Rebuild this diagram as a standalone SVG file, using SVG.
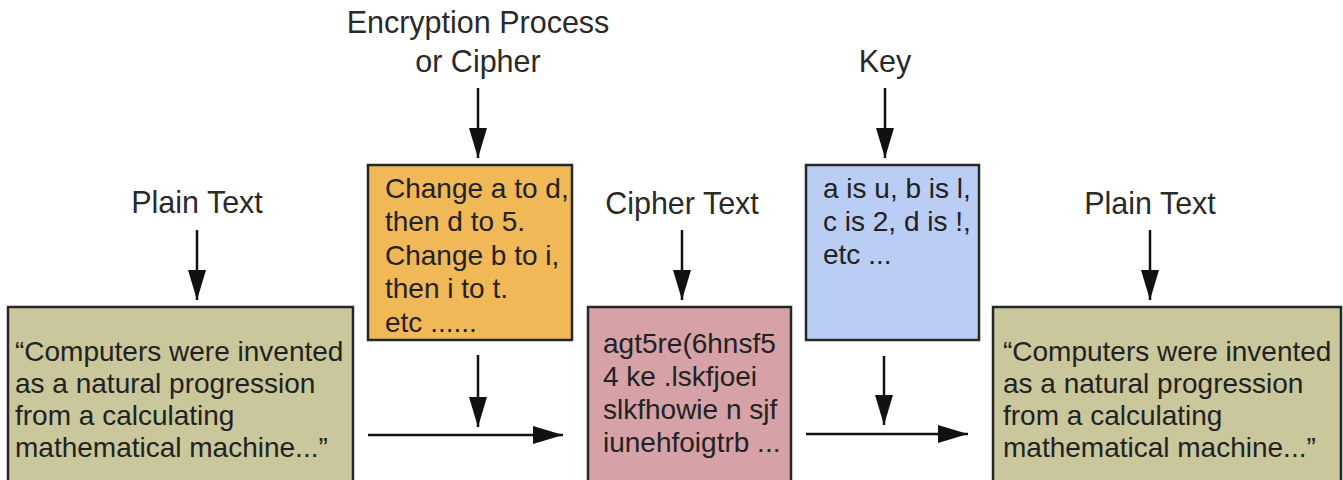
<svg xmlns="http://www.w3.org/2000/svg" width="1343" height="480" viewBox="0 0 1343 480">
<style>
  .lbl { font-family: "Liberation Sans", Arial, sans-serif; font-size: 28px; fill: #222; }
  .head { font-size: 30.5px; fill: #2a2a2a; }
  .box { stroke: #262626; stroke-width: 2.5; }
  .plain { fill: #c9c79b; }
  .orange { fill: #f1b857; }
  .pink { fill: #d6a2a7; }
  .blue { fill: #bacdf4; }
  .conn { stroke: #111; stroke-width: 2.5; fill: none; marker-end: url(#ah); }
</style>
<defs>
  <marker id="ah" markerUnits="userSpaceOnUse" markerWidth="30" markerHeight="18" refX="30" refY="9" orient="auto">
    <path d="M0,0 L30,9 L0,18 z" fill="#111"/>
  </marker>
</defs>
<rect width="1343" height="480" fill="#ffffff"/>

<g id="label-plain-left">
  <text class="lbl head" x="197" y="213" text-anchor="middle">Plain Text</text>
</g>
<g id="label-cipher-process">
  <text class="lbl head" x="478" y="33" text-anchor="middle">Encryption Process</text>
  <text class="lbl head" x="478" y="72" text-anchor="middle">or Cipher</text>
</g>
<g id="label-cipher-text">
  <text class="lbl head" x="682" y="214" text-anchor="middle">Cipher Text</text>
</g>
<g id="label-key">
  <text class="lbl head" x="885" y="72" text-anchor="middle">Key</text>
</g>
<g id="label-plain-right">
  <text class="lbl head" x="1150" y="214" text-anchor="middle">Plain Text</text>
</g>

<g id="plain-left">
  <rect class="box plain" x="8" y="307" width="345" height="190"/>
  <text class="lbl" x="15" y="361">“Computers were invented</text>
  <text class="lbl" x="15" y="393">as a natural progression</text>
  <text class="lbl" x="15" y="425">from a calculating</text>
  <text class="lbl" x="15" y="457">mathematical machine...”</text>
</g>

<g id="cipher-process">
  <rect class="box orange" x="368" y="165" width="204" height="175"/>
  <text class="lbl" x="385" y="198">Change a to d,</text>
  <text class="lbl" x="385" y="231">then d to 5.</text>
  <text class="lbl" x="385" y="265">Change b to i,</text>
  <text class="lbl" x="385" y="298">then i to t.</text>
  <text class="lbl" x="385" y="332">etc ......</text>
</g>

<g id="cipher-text">
  <rect class="box pink" x="588" y="307" width="203" height="190"/>
  <text class="lbl" x="603" y="353">agt5re(6hnsf5</text>
  <text class="lbl" x="603" y="386">4 ke .lskfjoei</text>
  <text class="lbl" x="603" y="419">slkfhowie n sjf</text>
  <text class="lbl" x="603" y="452">iunehfoigtrb ...</text>
</g>

<g id="key">
  <rect class="box blue" x="806" y="165" width="173" height="175"/>
  <text class="lbl" x="823" y="198">a is u, b is l,</text>
  <text class="lbl" x="823" y="231">c is 2, d is !,</text>
  <text class="lbl" x="823" y="264">etc ...</text>
</g>

<g id="plain-right">
  <rect class="box plain" x="993" y="307" width="348" height="190"/>
  <text class="lbl" x="1003" y="361">“Computers were invented</text>
  <text class="lbl" x="1003" y="393">as a natural progression</text>
  <text class="lbl" x="1003" y="425">from a calculating</text>
  <text class="lbl" x="1003" y="457">mathematical machine...”</text>
</g>

<g id="connectors">
  <line class="conn" x1="197" y1="230" x2="197" y2="300"/>
  <line class="conn" x1="478" y1="88" x2="478" y2="158"/>
  <line class="conn" x1="682" y1="230" x2="682" y2="300"/>
  <line class="conn" x1="885" y1="88" x2="885" y2="158"/>
  <line class="conn" x1="1150" y1="230" x2="1150" y2="300"/>
  <line class="conn" x1="478" y1="355" x2="478" y2="427"/>
  <line class="conn" x1="884" y1="356" x2="884" y2="425"/>
  <line class="conn" x1="368" y1="435" x2="563" y2="435"/>
  <line class="conn" x1="806" y1="434" x2="968" y2="434"/>
</g>
</svg>
